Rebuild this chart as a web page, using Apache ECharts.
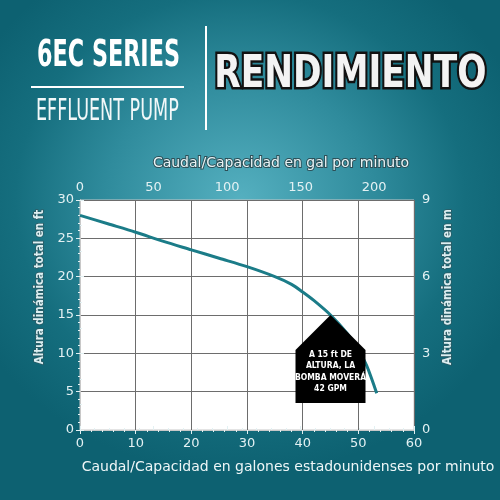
<!DOCTYPE html>
<html style="height: 100%">
<head>
  <meta charset="UTF-8">
  <title>6EC Series - Rendimiento</title>
  <script src="https://cdn.jsdelivr.net/npm/echarts/dist/echarts.min.js"></script>
</head>
<body style="height: 100%; margin: 0">
<div id="main" style="width: 500px; height: 500px; background: radial-gradient(ellipse 60% 55% at 48% 40%, #55b0c0 0%, #2f8b9c 45%, #156e7e 75%, #0d6171 100%);"></div>

<script>
  // pump curve: flow (US gpm) vs total dynamic head (ft)
  const flowGpm = [0, 5, 10, 15, 20, 25, 30, 35, 38, 40, 42, 45, 48, 50, 51.5, 53.3];
  const headFt = [28.0, 26.9, 25.8, 24.6, 23.5, 22.4, 21.3, 20.0, 19.0, 18.0, 16.9, 15.0, 12.6, 10.5, 8.4, 4.8];

  // axis ranges
  const gpmMax = 60;
  const lpmMax = 60 * 3.785;   // top axis (litres/min), same span as 60 gpm
  const ftMax = 30;
  const mMax = 9;

  // callout point
  const noteFlow = 45;
  const noteHead = 15;
  const noteText = ['A 15 ft DE', 'ALTURA, LA', 'BOMBA MOVERÁ', '42 GPM'];

  const tickColor = '#e3f1f3';
  const labelFont = 'DejaVu Sans';
  const headFont = '"Liberation Sans Narrow", "DejaVu Sans Condensed", sans-serif';

  let option = {
    animation: false,
    graphic: [
      {type: 'text', left: 37, top: 38, scaleX: 0.67,
        style: {text: '6EC SERIES', fill: '#fff', font: 'bold 37px ' + headFont}},
      {type: 'line', shape: {x1: 31, y1: 87, x2: 184, y2: 87}, style: {stroke: '#fff', lineWidth: 2}},
      {type: 'text', left: 36, top: 96, scaleX: 0.63,
        style: {text: 'EFFLUENT PUMP', fill: '#f2f8f9', font: '31px ' + headFont}},
      {type: 'line', shape: {x1: 206, y1: 26, x2: 206, y2: 130}, style: {stroke: '#fff', lineWidth: 2}},
      {type: 'text', left: 212, top: 50, scaleX: 0.85,
        style: {text: 'RENDIMIENTO', fill: '#f3f3f3', stroke: '#111', lineWidth: 5, strokeFirst: true,
          font: 'bold 45px ' + headFont}}
    ],
    grid: {
      left: 80,
      right: 86,
      top: 200,
      bottom: 70,
      containLabel: false,
      outerBoundsMode: 'none',
      show: true,
      backgroundColor: '#fff',
      borderColor: '#c8c8c8',
      borderWidth: 1
    },
    xAxis: [
      {
        type: 'value',
        position: 'bottom',
        min: 0,
        max: gpmMax,
        interval: 10,
        name: 'Caudal/Capacidad en galones estadounidenses por minuto',
        nameLocation: 'middle',
        nameGap: 30,
        nameTextStyle: {color: '#eef6f7', fontSize: 14, fontFamily: labelFont, padding: [0, 0, 0, 82]},
        axisLine: {show: true, lineStyle: {color: '#c8c8c8'}},
        axisTick: {show: true, length: 4, lineStyle: {color: tickColor}},
        minorTick: {show: true, splitNumber: 5, length: 2, lineStyle: {color: tickColor}},
        axisLabel: {color: tickColor, fontSize: 13, fontFamily: labelFont, margin: 7},
        splitLine: {show: true, lineStyle: {color: '#6d6d6d', width: 1}}
      },
      {
        type: 'value',
        position: 'top',
        min: 0,
        max: lpmMax,
        interval: 50,
        name: 'Caudal/Capacidad en gal por minuto',
        nameLocation: 'middle',
        nameGap: 30,
        nameTextStyle: {color: '#e8f4f6', fontSize: 14, fontFamily: labelFont,
          textBorderColor: '#2d4f57', textBorderWidth: 2, padding: [0, 0, 0, 68]},
        axisLine: {show: true, lineStyle: {color: '#c8c8c8'}},
        axisTick: {show: true, length: 4, lineStyle: {color: tickColor}},
        minorTick: {show: true, splitNumber: 5, length: 2, lineStyle: {color: tickColor}},
        axisLabel: {color: tickColor, fontSize: 13, fontFamily: labelFont, margin: 6, showMaxLabel: false},
        splitLine: {show: false}
      }
    ],
    yAxis: [
      {
        type: 'value',
        position: 'left',
        min: 0,
        max: ftMax,
        interval: 5,
        name: 'Altura dinámica total en ft',
        nameLocation: 'middle',
        nameRotate: 90,
        nameGap: 30,
        nameTextStyle: {color: '#dcefF2', fontSize: 11.5, fontWeight: 'bold', fontFamily: headFont,
          textBorderColor: '#2d5a63', textBorderWidth: 1.5, padding: [0, 0, 0, 56]},
        axisLine: {show: true, lineStyle: {color: '#c8c8c8'}},
        axisTick: {show: true, length: 4, lineStyle: {color: tickColor}},
        minorTick: {show: true, splitNumber: 5, length: 2, lineStyle: {color: tickColor}},
        axisLabel: {color: tickColor, fontSize: 13, fontFamily: labelFont, margin: 6},
        splitLine: {show: true, lineStyle: {color: '#6d6d6d', width: 1}}
      },
      {
        type: 'value',
        position: 'right',
        min: 0,
        max: mMax,
        interval: 3,
        name: 'Altura dinámica total en m',
        nameLocation: 'middle',
        nameRotate: 90,
        nameGap: 24,
        nameTextStyle: {color: '#dcefF2', fontSize: 11.5, fontWeight: 'bold', fontFamily: headFont,
          textBorderColor: '#2d5a63', textBorderWidth: 1.5, padding: [0, 0, 0, 56]},
        axisLine: {show: true, lineStyle: {color: '#c8c8c8'}},
        axisTick: {show: true, length: 4, lineStyle: {color: tickColor}},
        minorTick: {show: true, splitNumber: 3, length: 2, lineStyle: {color: tickColor}},
        axisLabel: {color: tickColor, fontSize: 13, fontFamily: labelFont, margin: 8},
        splitLine: {show: false}
      }
    ],
    series: [
      {
        name: '6EC',
        type: 'line',
        xAxisIndex: 0,
        yAxisIndex: 0,
        smooth: 0.3,
        symbol: 'none',
        lineStyle: {color: '#1b7c88', width: 3},
        data: flowGpm.map((f, i) => [f, headFt[i]]),
        markPoint: {
          symbol: 'path://M35,0L70,35L70,88L0,88L0,35Z',
          symbolSize: [70, 88],
          symbolOffset: [0, 44],
          symbolKeepAspect: false,
          itemStyle: {color: '#000'},
          label: {
            show: true,
            position: 'inside',
            offset: [0, 13],
            color: '#fff',
            fontSize: 8.5,
            fontWeight: 'bold',
            lineHeight: 11.5,
            fontFamily: headFont,
            formatter: noteText.join('\n')
          },
          data: [{coord: [noteFlow, noteHead]}]
        }
      }
    ]
  };

  let chart = echarts.init(document.getElementById('main'));
  chart.setOption(option);
</script>
</body>
</html>
